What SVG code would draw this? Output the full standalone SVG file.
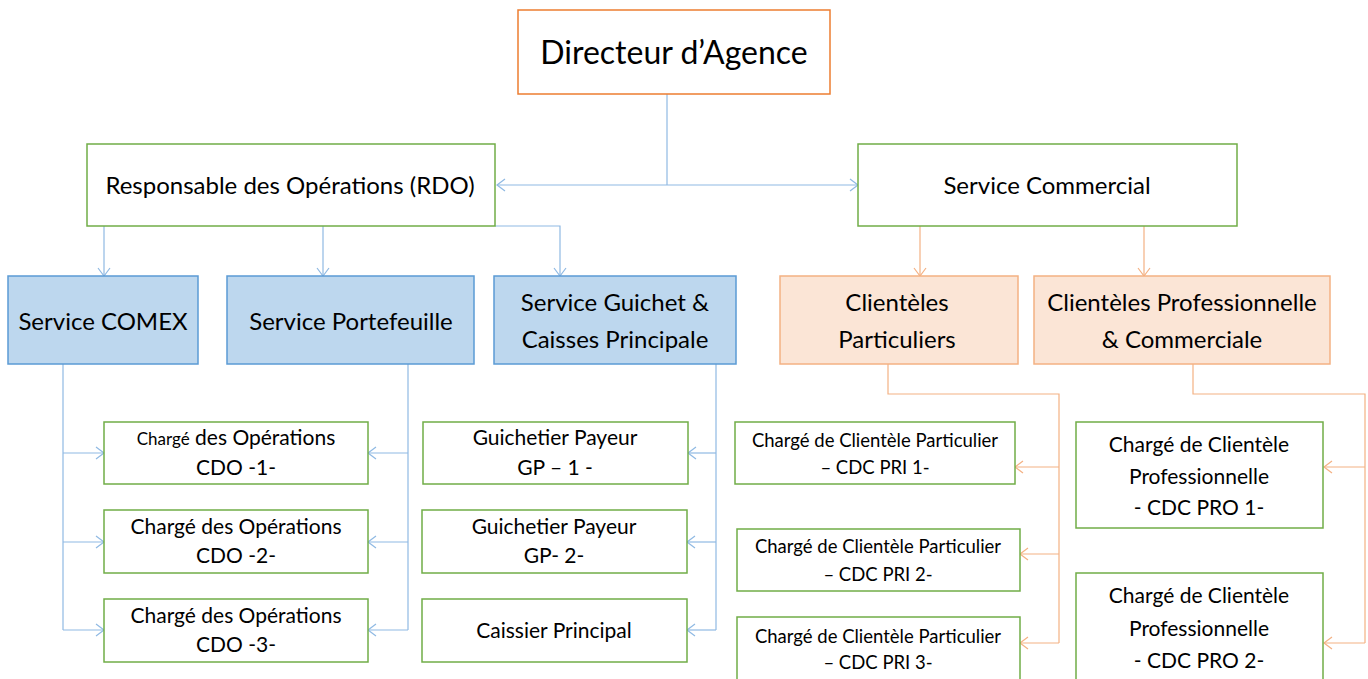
<svg xmlns="http://www.w3.org/2000/svg" width="1368" height="679" viewBox="0 0 1368 679">
<defs>
<marker id="ab" viewBox="0 0 10 14" markerWidth="10" markerHeight="14" refX="9" refY="7" orient="auto" markerUnits="userSpaceOnUse">
<path d="M1,1 L9,7 L1,13" fill="none" stroke="#8FB9E3" stroke-width="1.2"/>
</marker>
<marker id="ao" viewBox="0 0 10 14" markerWidth="10" markerHeight="14" refX="9" refY="7" orient="auto" markerUnits="userSpaceOnUse">
<path d="M1,1 L9,7 L1,13" fill="none" stroke="#F4B183" stroke-width="1.2"/>
</marker>
</defs>
<style>
text{font-family:Lato,"Liberation Sans",sans-serif;fill:#000;text-anchor:middle}
.g{fill:#fff;stroke:#70AD47;stroke-width:1.5}
.b{fill:#BDD7EE;stroke:#5B9BD5;stroke-width:1.5}
.o{fill:#FBE5D6;stroke:#F4B183;stroke-width:1.5}
.top{fill:#fff;stroke:#ED7D31;stroke-width:1.5}
.cb{fill:none;stroke:#8FB9E3;stroke-width:1.2}
.co{fill:none;stroke:#F4B183;stroke-width:1.2}
.f32{font-size:32px}.f24{font-size:24px}.f21{font-size:21px}.f17{font-size:17px}.f18{font-size:18.5px}
</style>
<rect width="1368" height="679" fill="#fff"/>
<g id="connectors">
<path class="cb" d="M667,94 V185"/>
<path class="cb" d="M667,185 H497" marker-end="url(#ab)"/>
<path class="cb" d="M667,185 H858" marker-end="url(#ab)"/>
<path class="cb" d="M104,226 V276" marker-end="url(#ab)"/>
<path class="cb" d="M323,226 V276" marker-end="url(#ab)"/>
<path class="cb" d="M495,226 H560 V276" marker-end="url(#ab)"/>
<path class="co" d="M920,226 V276" marker-end="url(#ao)"/>
<path class="co" d="M1144,226 V276" marker-end="url(#ao)"/>
<path class="cb" d="M63,364 V630"/>
<path class="cb" d="M63,453 H104" marker-end="url(#ab)"/>
<path class="cb" d="M63,542 H104" marker-end="url(#ab)"/>
<path class="cb" d="M63,630 H104" marker-end="url(#ab)"/>
<path class="cb" d="M408,364 V630"/>
<path class="cb" d="M408,453 H368" marker-end="url(#ab)"/>
<path class="cb" d="M408,542 H368" marker-end="url(#ab)"/>
<path class="cb" d="M408,630 H368" marker-end="url(#ab)"/>
<path class="cb" d="M716,364 V630"/>
<path class="cb" d="M716,453 H688" marker-end="url(#ab)"/>
<path class="cb" d="M716,542 H687" marker-end="url(#ab)"/>
<path class="cb" d="M716,630 H687" marker-end="url(#ab)"/>
<path class="co" d="M888,364 V394 H1059 V643"/>
<path class="co" d="M1059,467 H1015" marker-end="url(#ao)"/>
<path class="co" d="M1059,554 H1020" marker-end="url(#ao)"/>
<path class="co" d="M1059,643 H1020" marker-end="url(#ao)"/>
<path class="co" d="M1193,364 V394 H1365 V643"/>
<path class="co" d="M1365,467 H1324" marker-end="url(#ao)"/>
<path class="co" d="M1365,643 H1324" marker-end="url(#ao)"/>
</g>
<g id="directeur"><rect class="top" x="518" y="10" width="312" height="84"/><text class="f32" x="674" y="64">Directeur d’Agence</text></g>
<g id="rdo"><rect class="g" x="87" y="144" width="408" height="82"/><text class="f24" x="290" y="194">Responsable des Opérations (RDO)</text></g>
<g id="commercial"><rect class="g" x="858" y="144" width="379" height="82"/><text class="f24" x="1047" y="194">Service Commercial</text></g>
<g id="comex"><rect class="b" x="8" y="276" width="190" height="88"/><text class="f24" x="103" y="330">Service COMEX</text></g>
<g id="portefeuille"><rect class="b" x="227" y="276" width="247" height="88"/><text class="f24" x="351" y="330">Service Portefeuille</text></g>
<g id="guichet"><rect class="b" x="494" y="276" width="242" height="88"/><text class="f24" x="615" y="311">Service Guichet &amp;</text><text class="f24" x="615" y="348">Caisses Principale</text></g>
<g id="particuliers"><rect class="o" x="780" y="276" width="238" height="88"/><text class="f24" x="897" y="311">Clientèles</text><text class="f24" x="897" y="348">Particuliers</text></g>
<g id="professionnelle"><rect class="o" x="1034" y="276" width="296" height="88"/><text class="f24" x="1182" y="311">Clientèles Professionnelle</text><text class="f24" x="1182" y="348">&amp; Commerciale</text></g>
<g id="cdo1"><rect class="g" x="104" y="422" width="264" height="62"/><text class="f21" x="236" y="445"><tspan class="f17">Chargé</tspan> des Opérations</text><text class="f21" x="236" y="475">CDO -1-</text></g>
<g id="cdo2"><rect class="g" x="104" y="510" width="264" height="63"/><text class="f21" x="236" y="534">Chargé des Opérations</text><text class="f21" x="236" y="563">CDO -2-</text></g>
<g id="cdo3"><rect class="g" x="104" y="599" width="264" height="63"/><text class="f21" x="236" y="623">Chargé des Opérations</text><text class="f21" x="236" y="652">CDO -3-</text></g>
<g id="gp1"><rect class="g" x="423" y="422" width="265" height="62"/><text class="f21" x="555" y="445">Guichetier Payeur</text><text class="f21" x="555" y="475">GP – 1 -</text></g>
<g id="gp2"><rect class="g" x="422" y="510" width="265" height="63"/><text class="f21" x="554" y="534">Guichetier Payeur</text><text class="f21" x="554" y="563">GP- 2-</text></g>
<g id="caissier"><rect class="g" x="422" y="599" width="265" height="63"/><text class="f21" x="554" y="638">Caissier Principal</text></g>
<g id="pri1"><rect class="g" x="735" y="422" width="280" height="62"/><text class="f18" x="875" y="447">Chargé de Clientèle Particulier</text><text class="f18" x="875" y="474">– CDC PRI 1-</text></g>
<g id="pri2"><rect class="g" x="737" y="529" width="283" height="62"/><text class="f18" x="878" y="553">Chargé de Clientèle Particulier</text><text class="f18" x="878" y="581">– CDC PRI 2-</text></g>
<g id="pri3"><rect class="g" x="737" y="617" width="283" height="70"/><text class="f18" x="878" y="643">Chargé de Clientèle Particulier</text><text class="f18" x="878" y="669">– CDC PRI 3-</text></g>
<g id="pro1"><rect class="g" x="1076" y="422" width="247" height="106"/><text class="f21" x="1199" y="452">Chargé de Clientèle</text><text class="f21" x="1199" y="484">Professionnelle</text><text class="f21" x="1199" y="515">- CDC PRO 1-</text></g>
<g id="pro2"><rect class="g" x="1076" y="573" width="247" height="116"/><text class="f21" x="1199" y="603">Chargé de Clientèle</text><text class="f21" x="1199" y="636">Professionnelle</text><text class="f21" x="1199" y="668">- CDC PRO 2-</text></g>
</svg>
